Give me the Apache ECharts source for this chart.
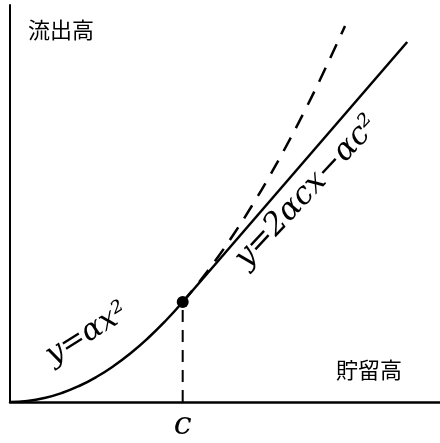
<!DOCTYPE html>
<html>
<head>
<meta charset="utf-8">
<script src="https://cdn.jsdelivr.net/npm/echarts@6/dist/echarts.min.js"></script>
<style>
  html, body { margin: 0; padding: 0; background: #fff; }
  #chart { width: 440px; height: 443px; }
</style>
</head>
<body>
<div id="chart"></div>
<script>
// Storage (x) vs. outflow (y); x measured in units of the break point c
const parabolaSolid = [[0, 0], [0.1, 0.01], [0.2, 0.04], [0.3, 0.09], [0.4, 0.16], [0.5, 0.25],
                       [0.6, 0.36], [0.7, 0.49], [0.8, 0.64], [0.9, 0.81], [1, 1]];
const parabolaDashed = [[1, 1], [1.1, 1.21], [1.2, 1.44], [1.3, 1.69], [1.4, 1.96], [1.5, 2.25],
                        [1.6, 2.56], [1.7, 2.89], [1.8, 3.24], [1.94, 3.76]];
const tangentLine = [[1, 1], [2.3, 3.6]];
const dropLine = [[1, 0], [1, 1]];
const breakPoint = [[1, 1]];
const breakTicks = [1];
const breakTickLabel = 'c';
const yName = '流出高';
const xName = '貯留高';
const curveLabel = 'y=αx²';
const lineLabel = 'y=2αcx−αc²';

const chart = echarts.init(document.getElementById('chart'));
const ink = '#000';
const cjk = '"Noto Sans CJK JP", "Noto Sans CJK SC", sans-serif';
const mathFont = '"DejaVu Serif", "Liberation Serif", serif';

chart.setOption({
  animation: false,
  backgroundColor: '#fff',
  grid: { left: 10, right: 0, top: 5, bottom: 41 },
  xAxis: {
    type: 'value', min: 0, max: 2.49,
    axisLine: { lineStyle: { color: ink, width: 2.5 } },
    axisTick: { show: false },
    splitLine: { show: false },
    axisLabel: {
      customValues: breakTicks,
      formatter: () => breakTickLabel,
      color: ink, fontFamily: mathFont, fontStyle: 'italic',
      fontSize: 32, margin: 8
    }
  },
  yAxis: {
    type: 'value', min: 0, max: 3.97,
    axisLine: { lineStyle: { color: ink, width: 2 } },
    axisTick: { show: false },
    axisLabel: { show: false },
    splitLine: { show: false }
  },
  series: [
    { type: 'line', data: parabolaSolid, smooth: true, showSymbol: false,
      lineStyle: { color: ink, width: 2.5 } },
    { type: 'line', data: tangentLine, showSymbol: false,
      lineStyle: { color: ink, width: 2.5 } },
    { type: 'line', data: parabolaDashed, smooth: true, showSymbol: false,
      lineStyle: { color: ink, width: 2.5, type: [15, 11] } },
    { type: 'line', data: dropLine, showSymbol: false,
      lineStyle: { color: ink, width: 2, type: [12, 8] } },
    { type: 'scatter', data: breakPoint, symbolSize: 12,
      itemStyle: { color: ink, opacity: 1 } }
  ],
  graphic: [
    { type: 'text', left: 28, top: 19,
      style: { text: yName, font: '22px ' + cjk, fill: ink } },
    { type: 'text', left: 336, top: 359,
      style: { text: xName, font: '22px ' + cjk, fill: ink } },
    { type: 'text', x: 87, y: 334, rotation: 32 * Math.PI / 180,
      style: { text: curveLabel, font: 'italic 30px ' + mathFont, fill: ink,
               align: 'center', verticalAlign: 'middle' } },
    { type: 'text', x: 307, y: 192, rotation: 47 * Math.PI / 180,
      style: { text: lineLabel, font: 'italic 31px ' + mathFont, fill: ink,
               align: 'center', verticalAlign: 'middle' } }
  ]
});
</script>
</body>
</html>
